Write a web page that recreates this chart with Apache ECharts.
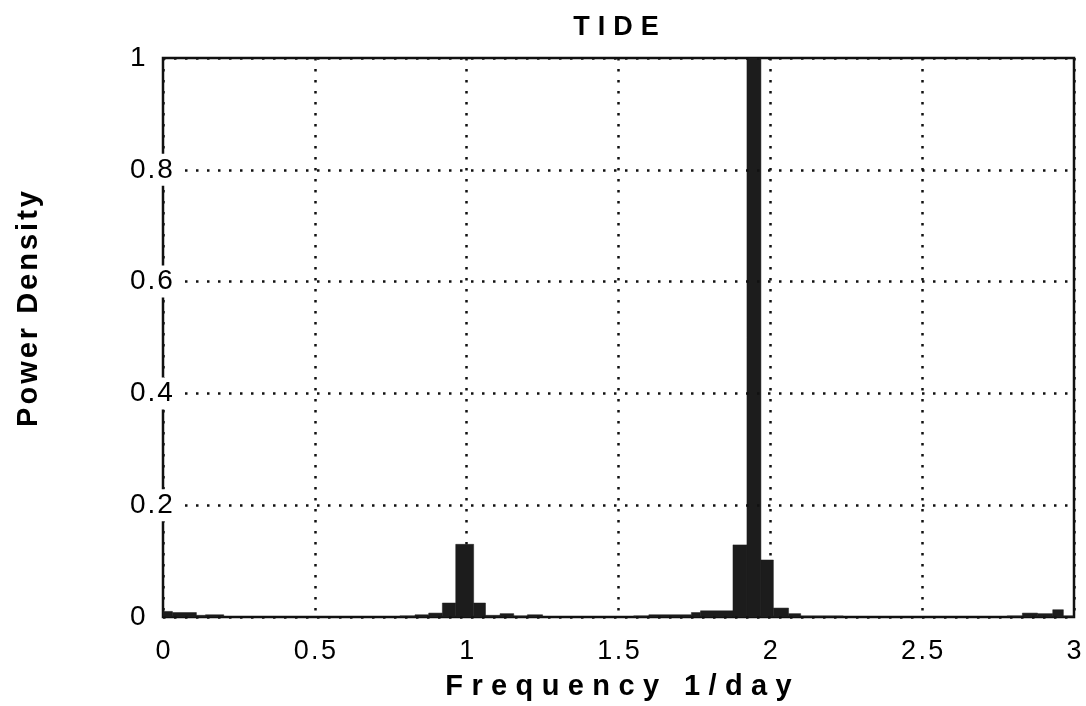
<!DOCTYPE html>
<html><head><meta charset="utf-8">
<script src="https://cdn.jsdelivr.net/npm/echarts@6/dist/echarts.min.js"></script>
<style>html,body{margin:0;padding:0;background:#fff}#c{width:1086px;height:706px}</style>
</head><body><div id="c"></div>
<script>
// Spectrum bins: frequency range (1/day) and power density
const freqLo = [0.000, 0.031, 0.110, 0.140, 0.780, 0.830, 0.875, 0.920, 0.964, 1.023, 1.062, 1.110, 1.155, 1.200, 1.550, 1.600, 1.740, 1.770, 1.877, 1.923, 1.969, 2.010, 2.060, 2.100, 2.780, 2.830, 2.880, 2.930, 2.965];
const freqHi = [0.031, 0.110, 0.140, 0.200, 0.830, 0.875, 0.920, 0.964, 1.023, 1.062, 1.110, 1.155, 1.200, 1.250, 1.600, 1.740, 1.770, 1.877, 1.923, 1.969, 2.010, 2.060, 2.100, 2.240, 2.830, 2.880, 2.930, 2.965, 3.000];
const power  = [0.010, 0.008, 0.003, 0.004, 0.002, 0.004, 0.007, 0.025, 0.130, 0.025, 0.003, 0.006, 0.002, 0.004, 0.002, 0.004, 0.008, 0.011, 0.129, 1.000, 0.102, 0.016, 0.006, 0.002, 0.002, 0.007, 0.006, 0.013, 0.002];
const xTicks = [0, 0.5, 1, 1.5, 2, 2.5, 3];
const yTicks = [0, 0.2, 0.4, 0.6, 0.8, 1];
const titleText = 'TIDE';
const xName = 'Frequency 1/day';
const yName = 'Power Density';

const FONT = '"Liberation Sans", Arial, Helvetica, sans-serif';
function spaced(s, key, lastKey) {
  const cs = s.split('');
  return cs.map((c, i) => '{' + ((lastKey && i === cs.length - 1) ? lastKey : key) + '|' + c + '}').join('');
}
function tickText(v) { return String(Math.round(v * 10) / 10); }

const data = freqLo.map((v, i) => [v, freqHi[i], power[i]]);

const chart = echarts.init(document.getElementById('c'), null, {renderer: 'canvas'});
const dotted = {color: '#111', width: 2.5, type: [2.5, 8.5]};
chart.setOption({
  animation: false,
  backgroundColor: '#fff',
  title: {
    text: spaced(titleText, 'a'), left: 611, top: 9, textAlign: 'center',
    textStyle: {rich: {a: {fontFamily: FONT, fontWeight: 'bold', fontSize: 27, color: '#000', padding: [0, 4]}}}
  },
  graphic: [{
    type: 'text', x: 29, y: 309, rotation: Math.PI / 2, z: 10,
    style: {text: spaced(yName, 'n'), align: 'center', verticalAlign: 'middle',
      rich: {n: {fontFamily: FONT, fontWeight: 'bold', fontSize: 29, fill: '#000', padding: [0, 1.5]}}}
  }],
  grid: {left: 163, top: 58, right: 12, bottom: 89, outerBoundsMode: 'none', containLabel: false,
    show: true, borderColor: '#111', borderWidth: 2.5, backgroundColor: 'transparent'},
  xAxis: {
    type: 'value', min: 0, max: 3, interval: 0.5,
    axisLine: {show: false}, axisTick: {show: false},
    splitLine: {show: true, lineStyle: dotted},
    axisLabel: {margin: 21, formatter: v => spaced(tickText(v), 't'),
      rich: {t: {fontFamily: FONT, fontSize: 27, color: '#000', padding: [0, 1.2]}}},
    name: spaced(xName, 'n'), nameLocation: 'middle', nameGap: 55,
    nameTextStyle: {rich: {n: {fontFamily: FONT, fontWeight: 'bold', fontSize: 29, color: '#000', padding: [0, 4.2]}}}
  },
  yAxis: {
    type: 'value', min: 0, max: 1, interval: 0.2, z: 5,
    axisLine: {show: false}, axisTick: {show: false},
    splitLine: {show: true, lineStyle: dotted},
    axisLabel: {margin: 34, align: 'left',
      formatter: v => (v === 0 || v === 1) ? spaced(tickText(v), 'e') : spaced(tickText(v), 'm', 'mEnd'),
      rich: {
        m: {fontFamily: FONT, fontSize: 28, color: '#000', padding: [2, 1], backgroundColor: '#fff'},
        mEnd: {fontFamily: FONT, fontSize: 28, color: '#000', padding: [2, 12, 2, 1], backgroundColor: '#fff'},
        e: {fontFamily: FONT, fontSize: 28, color: '#000', padding: [0, 1]}
      }}
  },
  series: [{
    type: 'custom',
    encode: {x: [0, 1], y: 2},
    clip: true,
    data: data,
    renderItem: function (params, api) {
      const p0 = api.coord([api.value(0), api.value(2)]);
      const p1 = api.coord([api.value(1), 0]);
      return {type: 'rect', shape: {x: p0[0], y: p0[1], width: p1[0] - p0[0], height: p1[1] - p0[1]},
        style: {fill: '#1c1c1c', stroke: '#1c1c1c', lineWidth: 0.5}};
    }
  }]
});
</script></body></html>
